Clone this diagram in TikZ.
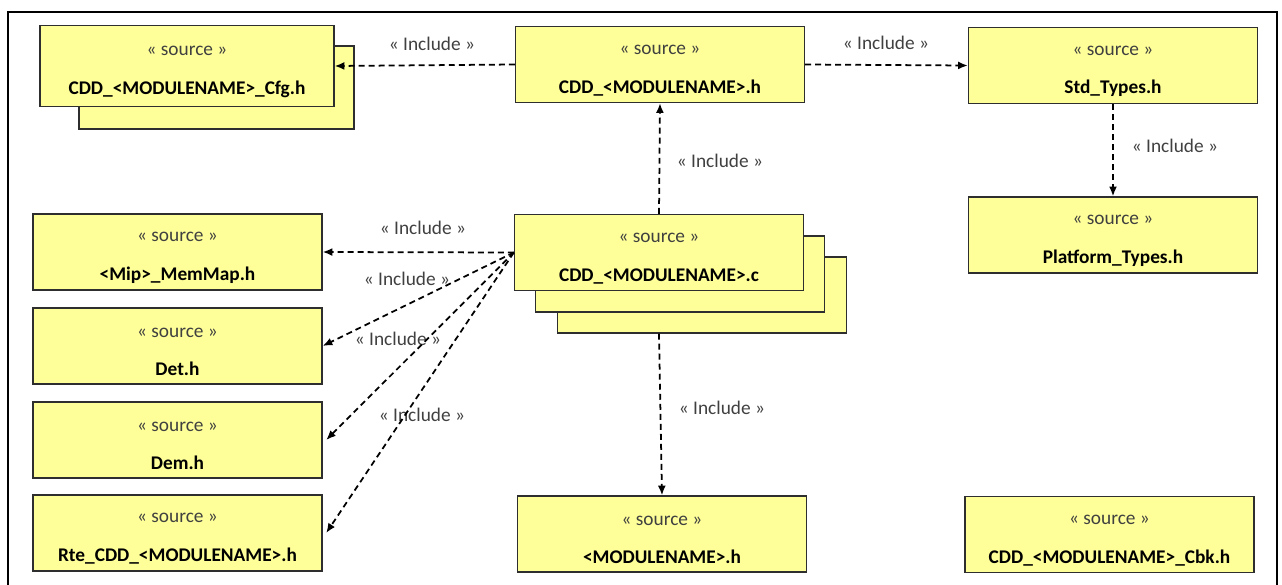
\documentclass[tikz,border=0pt]{standalone}
\usepackage{fontspec}
\setmainfont{Carlito}
\usetikzlibrary{arrows.meta}
\definecolor{boxfill}{HTML}{FFFF99}
\definecolor{boxline}{HTML}{2E2E2E}
\definecolor{lbltext}{HTML}{404040}
\newcommand\srcname[1]{\rule{0pt}{12pt}{\color{lbltext}« source »}\\[8.5pt]\textbf{#1}}
\tikzset{
  every node/.style={font=\fontsize{11}{13.5}\selectfont},
  srcbox/.style={draw=boxline, fill=boxfill, line width=0.8pt, align=center,
    inner sep=0pt, minimum width=5.78cm, minimum height=1.52cm},
  inclabel/.style={text=lbltext},
  incarrow/.style={-{Latex[length=5.5pt,width=4.5pt]}, line width=1pt,
    dash pattern=on 3.4pt off 2.3pt},
}
\begin{document}
\begin{tikzpicture}[x=0.02cm, y=-0.02cm]
  \useasboundingbox (0,0) rectangle (1282,585);
  % frame
  \draw[line width=1.6pt] (8,585) -- (8,12) -- (1277,12) -- (1277,585);

  % stacked back boxes
  \node[srcbox, minimum width=5.5cm, minimum height=1.66cm] (cfgb) at (216.5,87.5) {};
  \node[srcbox] (ccb2) at (702,295) {};
  \node[srcbox] (ccb1) at (680,274) {};

  % boxes
  \node[srcbox, minimum width=5.88cm, minimum height=1.62cm] (cfg) at (187,66) {\srcname{CDD\_<MODULENAME>\_Cfg.h}};
  \node[srcbox] (cdh) at (660,64.5) {\srcname{CDD\_<MODULENAME>.h}};
  \node[srcbox] (std) at (1113,65.5) {\srcname{Std\_Types.h}};
  \node[srcbox] (plat) at (1113,235) {\srcname{Platform\_Types.h}};
  \node[srcbox] (cc) at (659,252.5) {\srcname{CDD\_<MODULENAME>.c}};
  \node[srcbox] (mem) at (177.5,252) {\srcname{<Mip>\_MemMap.h}};
  \node[srcbox] (det) at (177.5,346) {\srcname{Det.h}};
  \node[srcbox] (dem) at (177.5,440) {\srcname{Dem.h}};
  \node[srcbox] (rte) at (177.5,533) {\srcname{Rte\_CDD\_<MODULENAME>.h}};
  \node[srcbox] (modh) at (662,534) {\srcname{<MODULENAME>.h}};
  \node[srcbox] (cbk) at (1109.5,534.5) {\srcname{CDD\_<MODULENAME>\_Cbk.h}};

  % labels
  \node[inclabel] (l1) at (432,44) {« Include »};
  \node[inclabel] (l2) at (886,43) {« Include »};
  \node[inclabel] (l3) at (720,161) {« Include »};
  \node[inclabel] (l4) at (1175,146) {« Include »};
  \node[inclabel] (l5) at (423,228) {« Include »};
  \node[inclabel] (l6) at (407,279) {« Include »};
  \node[inclabel] (l7) at (398,339) {« Include »};
  \node[inclabel] (l8) at (422,415) {« Include »};
  \node[inclabel] (l9) at (722,408) {« Include »};

  % includes
  \draw[incarrow] (cdh.west) -- (cfg.east);
  \draw[incarrow] (cdh.east) -- (std.west);
  \draw[incarrow] (cc.north) -- (cdh.south);
  \draw[incarrow] (std.south) -- (plat.north);
  \draw[incarrow] (cc.west) -- (mem.east);
  \draw[incarrow] (cc.west) -- (det.east);
  \draw[incarrow] (cc.west) -- ([xshift=2pt]dem.east);
  \draw[incarrow] (cc.west) -- ([xshift=2pt]rte.east);
  \draw[incarrow] (cc.south |- ccb2.south) -- (modh.north);
\end{tikzpicture}
\end{document}
